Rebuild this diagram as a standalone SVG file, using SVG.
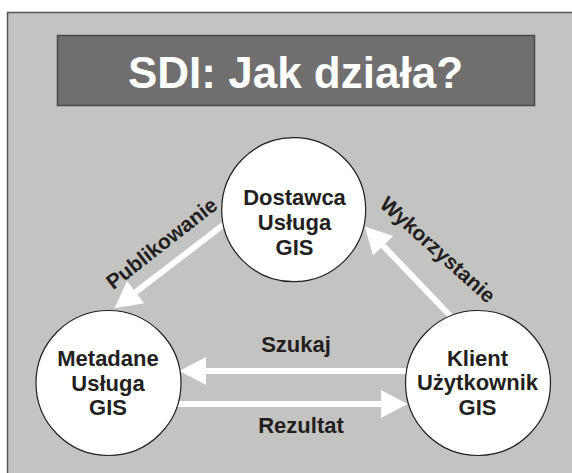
<svg xmlns="http://www.w3.org/2000/svg" width="572" height="473" viewBox="0 0 572 473">
<style>
.node circle{fill:#fff;stroke:#231f20;stroke-width:1.2}
.lbl{font-family:"Liberation Sans",Arial,sans-serif;font-weight:bold;font-size:22px;fill:#231f20;text-anchor:middle}
.conn line{stroke:#fff;stroke-width:6}
</style>
<defs>
<marker id="ah" markerUnits="userSpaceOnUse" markerWidth="30" markerHeight="30" viewBox="0 -15 27 30" refX="0" refY="0" orient="auto">
<path d="M0,-14 L26.5,0 L0,14 z" fill="#fff"/>
</marker>
</defs>
<rect x="0" y="0" width="572" height="473" fill="#fff"/>
<rect x="7.5" y="12.5" width="580" height="480" fill="#c3c3c1" stroke="#555" stroke-width="1.5"/>
<g id="title">
<rect x="57.5" y="35.5" width="477" height="70" fill="#706e6f" stroke="#4a4848" stroke-width="1.5"/>
<text x="128" y="88" font-family="Liberation Sans,Arial,sans-serif" font-weight="bold" font-size="44" fill="#fff">SDI: Jak działa?</text>
</g>
<g id="connectors" class="conn">
<line x1="240" y1="212" x2="135.6" y2="292.2" marker-end="url(#ah)"/>
<line x1="460" y1="326" x2="383.1" y2="245.7" marker-end="url(#ah)"/>
<line x1="420" y1="371" x2="206" y2="371" marker-end="url(#ah)"/>
<line x1="160" y1="404" x2="381" y2="404" marker-end="url(#ah)"/>
<text class="lbl" font-size="21" transform="translate(166,249) rotate(-38)" style="font-size:21px">Publikowanie</text>
<text class="lbl" transform="translate(433,255) rotate(42)" style="font-size:21px">Wykorzystanie</text>
<text class="lbl" x="296" y="352">Szukaj</text>
<text class="lbl" x="301" y="433">Rezultat</text>
</g>
<g id="dostawca" class="node">
<circle cx="293.7" cy="209.7" r="72"/>
<text class="lbl" x="294.5" y="205">Dostawca</text>
<text class="lbl" x="294.5" y="230">Usługa</text>
<text class="lbl" x="294.5" y="255">GIS</text>
</g>
<g id="metadane" class="node">
<circle cx="108.5" cy="383" r="72.5"/>
<text class="lbl" x="108" y="366">Metadane</text>
<text class="lbl" x="108" y="391">Usługa</text>
<text class="lbl" x="108" y="415">GIS</text>
</g>
<g id="klient" class="node">
<circle cx="478" cy="383" r="72.5"/>
<text class="lbl" x="477.5" y="366">Klient</text>
<text class="lbl" x="477.5" y="390">Użytkownik</text>
<text class="lbl" x="477.5" y="415">GIS</text>
</g>
</svg>
